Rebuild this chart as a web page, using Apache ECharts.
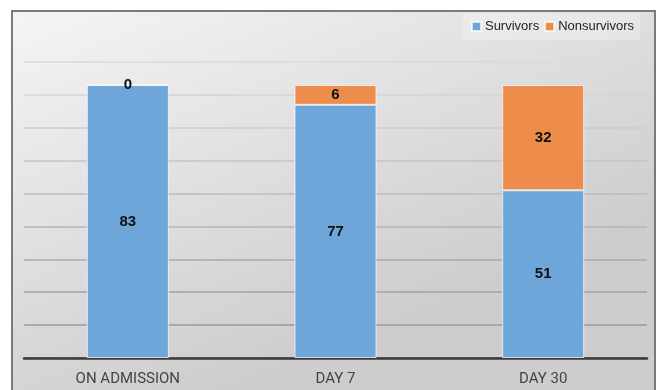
<!DOCTYPE html>
<html>
<head>
<meta charset="utf-8">
<script src="https://cdn.jsdelivr.net/npm/echarts@6/dist/echarts.min.js"></script>
<style>
  html, body { margin: 0; padding: 0; background: #ffffff; }
  #chart { width: 659px; height: 390px; }
</style>
</head>
<body>
<div id="chart"></div>
<script>
var categories = ['ON ADMISSION', 'DAY 7', 'DAY 30'];
var survivors = [83, 77, 51];
var nonsurvivors = [0, 6, 32];

// gridline colours from value 0 upward, lighter toward the top
var gridColors = ['#8a8a8a', '#9a9a9a', '#a2a2a2', '#aaaaaa', '#b4b4b4',
                  '#bcbcbc', '#c4c4c4', '#cccccc', '#d4d4d4', '#dadada'];

var chartDom = document.getElementById('chart');
var myChart = echarts.init(chartDom, null, { renderer: 'canvas' });

var valueLabel = {
    show: true,
    position: 'inside',
    color: '#111',
    fontWeight: 'bold',
    fontSize: 15,
    fontFamily: 'Liberation Sans'
};

var option = {
    animation: false,
    graphic: [
        {
            type: 'rect',
            z: -10,
            shape: { x: 12, y: 11, width: 643, height: 400 },
            style: {
                fill: new echarts.graphic.LinearGradient(0, 0, 0.25, 1, [
                    { offset: 0, color: '#f5f5f5' },
                    { offset: 1, color: '#cdcdcd' }
                ]),
                stroke: '#7a7a7a',
                lineWidth: 2
            }
        }
    ],
    legend: {
        data: ['Survivors', 'Nonsurvivors'],
        right: 19,
        top: 13,
        padding: [7, 6, 7, 8],
        backgroundColor: 'rgba(255,255,255,0.25)',
        itemWidth: 9,
        itemHeight: 9,
        itemGap: 5,
        icon: 'rect',
        textStyle: {
            fontSize: 13,
            color: '#222',
            fontFamily: 'Liberation Sans',
            padding: [0, 0, 0, -1]
        }
    },
    grid: {
        left: 24,
        right: 12,
        top: 62,
        bottom: 32
    },
    xAxis: {
        type: 'category',
        data: categories,
        axisTick: { show: false },
        axisLine: { lineStyle: { color: '#3a3a3a', width: 2.5 } },
        axisLabel: {
            margin: 14,
            fontSize: 15,
            color: '#444',
            fontFamily: "'Liberation Sans Narrow', 'Roboto'"
        }
    },
    yAxis: {
        type: 'value',
        min: 0,
        max: 90,
        interval: 10,
        axisLabel: { show: false },
        axisLine: { show: false },
        axisTick: { show: false },
        splitLine: { lineStyle: { color: gridColors, width: 1.5 } }
    },
    series: [
        {
            name: 'Survivors',
            type: 'bar',
            stack: 'total',
            barWidth: '39.5%',
            data: survivors,
            itemStyle: { color: '#6fa6da', borderColor: 'rgba(255,255,255,0.7)', borderWidth: 1 },
            label: valueLabel
        },
        {
            name: 'Nonsurvivors',
            type: 'bar',
            stack: 'total',
            data: nonsurvivors,
            itemStyle: { color: '#ee8c4b', borderColor: 'rgba(255,255,255,0.7)', borderWidth: 1 },
            label: valueLabel
        }
    ]
};

myChart.setOption(option);
</script>
</body>
</html>
